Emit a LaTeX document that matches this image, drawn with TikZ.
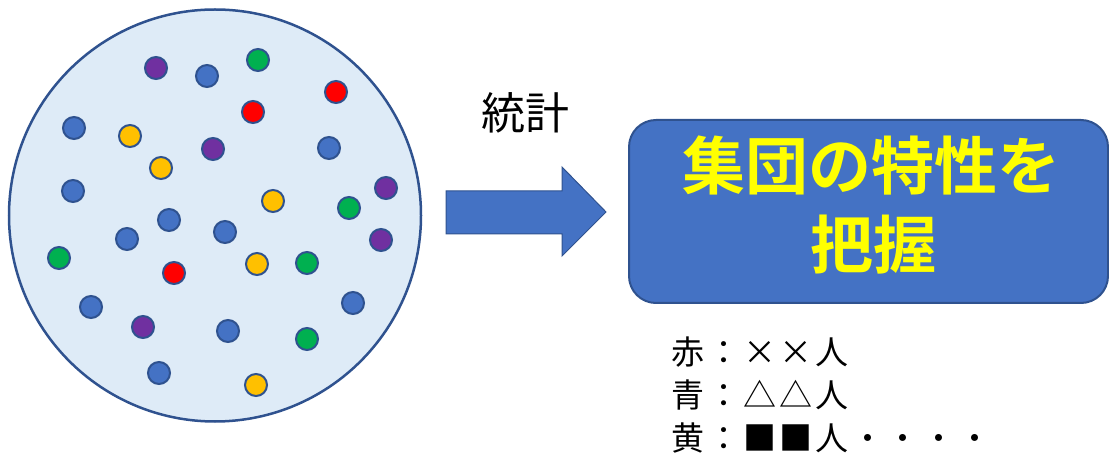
\documentclass[tikz,border=0pt]{standalone}
\usepackage{fontspec}
\newfontfamily\jp{Noto Sans CJK JP}
\newfontfamily\jpl{Noto Sans CJK JP}[LetterSpace=9]
\newfontfamily\jpb{Noto Sans CJK JP Bold}
\definecolor{edgeblue}{HTML}{2F528F}
\definecolor{popfill}{HTML}{DEEBF7}
\definecolor{cblue}{HTML}{4472C4}
\definecolor{cpurple}{HTML}{7030A0}
\definecolor{cgreen}{HTML}{00B050}
\definecolor{cred}{HTML}{FF0000}
\definecolor{cyellow}{HTML}{FFC000}
\definecolor{txtyellow}{HTML}{FFFF00}
\tikzset{
  dot/.style={circle, draw=edgeblue, line width=2pt, minimum size=22pt, inner sep=0pt},
  B/.style={dot, fill=cblue},
  P/.style={dot, fill=cpurple},
  G/.style={dot, fill=cgreen},
  R/.style={dot, fill=cred},
  Y/.style={dot, fill=cyellow},
  legend/.style={anchor=west, inner sep=0pt, font=\jpl\fontsize{33}{40}\selectfont}
}
\begin{document}
\begin{tikzpicture}[x=1pt,y=-1pt]
\useasboundingbox (0,0) rectangle (1109,454);
% population circle
\node[circle, draw=edgeblue, fill=popfill, line width=2.5pt, minimum size=412pt, inner sep=0pt] (pop) at (215,215.5) {};
% dots
\node[P] (d1) at (156,68) {};
\node[B] (d2) at (207,76) {};
\node[G] (d3) at (258,60) {};
\node[R] (d4) at (336,92) {};
\node[R] (d5) at (253,112) {};
\node[B] (d6) at (74,128) {};
\node[Y] (d7) at (130,136) {};
\node[P] (d8) at (213,149) {};
\node[B] (d9) at (329,148) {};
\node[Y] (d10) at (161,168) {};
\node[B] (d11) at (73,191) {};
\node[P] (d12) at (386,188) {};
\node[Y] (d13) at (273,201) {};
\node[G] (d14) at (349,208) {};
\node[B] (d15) at (169,220) {};
\node[B] (d16) at (225,232) {};
\node[B] (d17) at (127,239) {};
\node[P] (d18) at (381,240) {};
\node[G] (d19) at (59,258) {};
\node[R] (d20) at (174,273) {};
\node[Y] (d21) at (257,264) {};
\node[G] (d22) at (307,263) {};
\node[B] (d23) at (353,303) {};
\node[B] (d24) at (91,307) {};
\node[P] (d25) at (143,327) {};
\node[B] (d26) at (228,331) {};
\node[G] (d27) at (307,339) {};
\node[B] (d28) at (159,373) {};
\node[Y] (d29) at (256,385) {};
% arrow
\draw[fill=cblue, draw=edgeblue, line width=1pt]
  (446,191) -- (562,191) -- (562,167) -- (606,212) -- (562,256) -- (562,234) -- (446,234) -- cycle;
\node[font=\jp\fontsize{44}{50}\selectfont, inner sep=0pt] (lab) at (525,113) {統計};
% result box
\node[draw=edgeblue, fill=cblue, line width=2pt, rounded corners=27pt, minimum width=479pt, minimum height=183pt, inner sep=0pt] (res) at (868.5,211.5) {};
\node[font=\jpb\fontsize{63}{81}\selectfont, text=txtyellow, inner sep=0pt] (r1) at (871,165) {集団の特性を};
\node[font=\jpb\fontsize{63}{81}\selectfont, text=txtyellow, inner sep=0pt] (r2) at (873,245) {把握};
% legend
\node[legend] (l1) at (671,352) {赤：××人};
\node[legend] (l2) at (671,395) {青：△△人};
\node[legend] (l3) at (671,438) {黄：■■人・・・・};
\end{tikzpicture}
\end{document}
